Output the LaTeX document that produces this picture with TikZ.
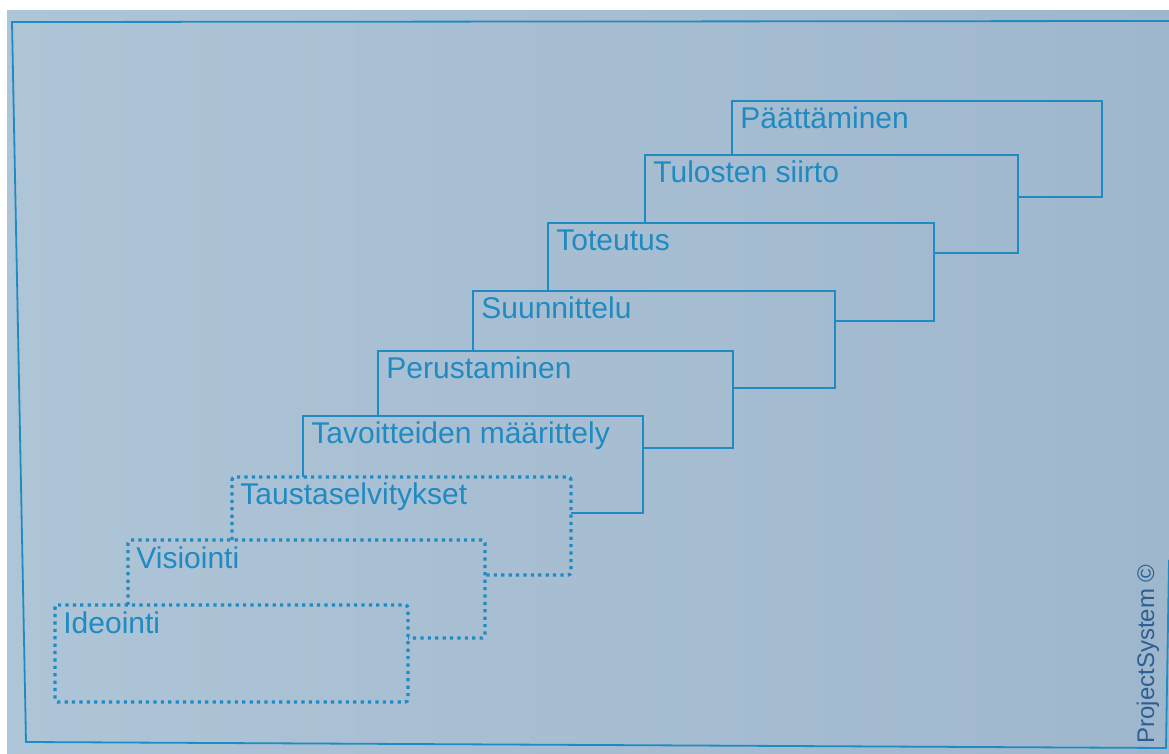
\documentclass[tikz,border=0pt]{standalone}
\usepackage{fontspec}
\setmainfont{Liberation Sans}
\usetikzlibrary{fit,calc}

\definecolor{paperL}{HTML}{AEC4D7}
\definecolor{paperR}{HTML}{9FB7CD}
\definecolor{ink}{HTML}{1F8BC2}
\definecolor{copyink}{HTML}{2C5E93}

\tikzset{
  stagebox/.style={inner sep=0pt, outer sep=0pt},
  solidedge/.style={draw=ink, line width=1.4pt, line join=miter},
  dottededge/.style={draw=ink, line width=1.7pt, dash pattern=on 1.6pt off 2.1pt, rounded corners=1.5pt},
  stagelabel/.style={text=ink, font=\fontsize{15}{17}\selectfont, inner sep=0pt, anchor=base west},
  frameline/.style={draw=ink, line width=0.9pt},
}

% #1 name, #2 left, #3 top, #4 right, #5 bottom, #6 label
\newcommand\placestage[6]{%
  \coordinate (#1-a) at (#2,#3);
  \coordinate (#1-b) at (#4,#5);
  \node[stagebox, fit=(#1-a)(#1-b)] (#1) {};
  \node[stagelabel] (#1-t) at ($(#1.north west)+(8,28)$) {#6};
}

\begin{document}
\begin{tikzpicture}[x=0.5pt, y=-0.5pt]
  % paper
  \fill[white] (0,0) rectangle (1169,754);
  \useasboundingbox (0,0) rectangle (1169,754);
  \shade[left color=paperL, right color=paperR] (7,11) rectangle (1169,754);

  % outer frame
  \draw[frameline] (1169,21) -- (12,22) -- (26,742) -- (1166,748) -- (1169,560);

  % stages, front to back
  \placestage{s1}{55}{605}{408}{702}{Ideointi}
  \placestage{s2}{128}{540}{485}{638}{Visiointi}
  \placestage{s3}{232}{477}{571}{575}{Taustaselvitykset}
  \placestage{s4}{303}{416}{643}{513}{Tavoitteiden määrittely}
  \placestage{s5}{378}{351}{733}{448}{Perustaminen}
  \placestage{s6}{473}{291}{835}{388}{Suunnittelu}
  \placestage{s7}{548}{223}{934}{321}{Toteutus}
  \placestage{s8}{645}{155}{1018}{253}{Tulosten siirto}
  \placestage{s9}{732}{101}{1102}{197}{Päättäminen}

  % front stage: full outline
  \draw[dottededge] (s1.north west) -- (s1.north east) -- (s1.south east) -- (s1.south west) -- cycle;
  % each further stage shows only what the stage in front leaves visible
  \draw[dottededge] (s2.west |- s1.north) -- (s2.north west) -- (s2.north east) -- (s2.south east) -- (s1.east |- s2.south);
  \draw[dottededge] (s3.west |- s2.north) -- (s3.north west) -- (s3.north east) -- (s3.south east) -- (s2.east |- s3.south);
  \draw[solidedge] (s4.west |- s3.north) -- (s4.north west) -- (s4.north east) -- (s4.south east) -- (s3.east |- s4.south);
  \draw[solidedge] (s5.west |- s4.north) -- (s5.north west) -- (s5.north east) -- (s5.south east) -- (s4.east |- s5.south);
  \draw[solidedge] (s6.west |- s5.north) -- (s6.north west) -- (s6.north east) -- (s6.south east) -- (s5.east |- s6.south);
  \draw[solidedge] (s7.west |- s6.north) -- (s7.north west) -- (s7.north east) -- (s7.south east) -- (s6.east |- s7.south);
  \draw[solidedge] (s8.west |- s7.north) -- (s8.north west) -- (s8.north east) -- (s8.south east) -- (s7.east |- s8.south);
  \draw[solidedge] (s9.west |- s8.north) -- (s9.north west) -- (s9.north east) -- (s9.south east) -- (s8.east |- s9.south);

  % copyright note
  \node[text=copyink, font=\fontsize{12}{13}\selectfont, inner sep=0pt, rotate=90, anchor=base west] (copy) at (1154,744) {ProjectSystem ©};
\end{tikzpicture}
\end{document}
